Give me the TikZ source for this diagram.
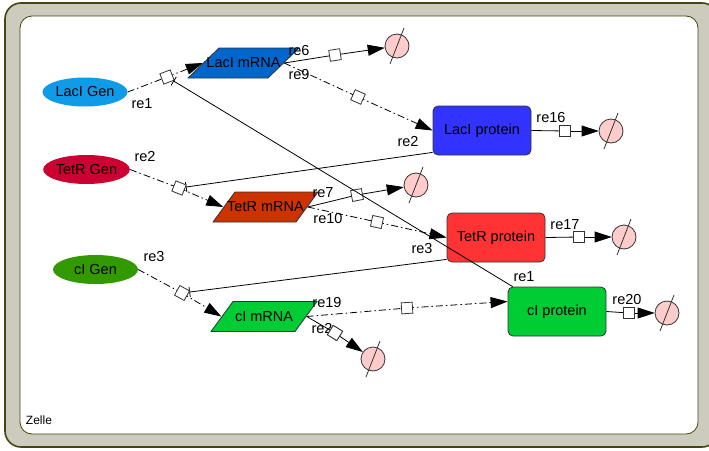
\documentclass[tikz,border=0pt]{standalone}
\usepackage{fontspec}
\setmainfont{Liberation Sans}
\usetikzlibrary{shapes.geometric,arrows.meta,calc}
\pgfdeclarelayer{back}
\pgfdeclarelayer{edges}
\pgfdeclarelayer{front}
\pgfsetlayers{back,edges,main,front}

\definecolor{compfill}{HTML}{CCCBBE}
\definecolor{compline}{HTML}{45450F}
\definecolor{lacgen}{HTML}{0F9BE8}
\definecolor{tetgen}{HTML}{CC0033}
\definecolor{cigen}{HTML}{339900}
\definecolor{lacrna}{HTML}{0066CC}
\definecolor{tetrna}{HTML}{CC3300}
\definecolor{cirna}{HTML}{00CC33}
\definecolor{lacprot}{HTML}{3333FF}
\definecolor{tetprot}{HTML}{FF3333}
\definecolor{ciprot}{HTML}{00CC33}
\definecolor{degpink}{HTML}{FFCCCC}
\definecolor{edgegray}{HTML}{333333}

\tikzset{
  gene/.style={ellipse, minimum width=85pt, minimum height=29pt, inner sep=0pt},
  % parallelogram drawn inside its box: #1 fill colour, #2 horizontal slant
  mrna/.style 2 args={rectangle, minimum height=31pt, inner sep=0pt,
    path picture={
      \path[fill=#1, draw=edgegray, line width=0.8pt]
        ([shift={(#2pt+0.5pt,-0.5pt)}]path picture bounding box.north west)
        -- ([shift={(-0.5pt,-0.5pt)}]path picture bounding box.north east)
        -- ([shift={(-#2pt-0.5pt,0.5pt)}]path picture bounding box.south east)
        -- ([shift={(0.5pt,0.5pt)}]path picture bounding box.south west) -- cycle;}},
  protein/.style={rectangle, rounded corners=5pt, minimum width=98pt,
    minimum height=49pt, draw=edgegray, line width=0.8pt},
  degr/.style={circle, minimum size=24pt, inner sep=0pt, draw=edgegray,
    fill=degpink, line width=0.8pt},
  proc/.style={rectangle, minimum size=11pt, inner sep=0pt, draw=edgegray,
    fill=white, line width=0.8pt},
  flow/.style={line width=0.8pt, black},
  transl/.style={flow, dash pattern=on 7pt off 3pt on 1.5pt off 3pt},
  tip/.style={-{Triangle[length=17pt,width=11pt]}},
  inhib/.style={flow, -{Bar[width=10pt,line width=0.8pt]}},
  lbl/.style={inner sep=0pt},
}

\begin{document}
\begin{tikzpicture}[x=1pt, y=-1pt, font=\fontsize{14.5}{16}\selectfont]
\useasboundingbox (0,0) rectangle (709,450);

% compartment "Zelle"
\begin{pgfonlayer}{back}
  \fill[white] (0,0) rectangle (709,450);
  \draw[line width=1.6pt, draw=compline, fill=compfill, rounded corners=16pt]
    (5,3) rectangle (718,447);
  \draw[line width=0.8pt, draw=compline, fill=white, rounded corners=12pt]
    (20,16) rectangle (698,434);
\end{pgfonlayer}
\node[lbl, font=\fontsize{12}{14}\selectfont] (zelle) at (39,420) {Zelle};

% genes
\node[gene, fill=lacgen] (lacg) at (85,92) {LacI Gen};
\node[gene, fill=tetgen] (tetg) at (86.5,169.5) {TetR Gen};
\node[gene, fill=cigen]  (cig)  at (95.5,269.5) {cI Gen};

% mRNAs
\node[mrna={lacrna}{31}, minimum width=112pt] (lacm) at (243.5,63) {LacI mRNA};
\node[mrna={tetrna}{22}, minimum width=106pt] (tetm) at (265.5,207) {TetR mRNA};
\node[mrna={cirna}{22}, minimum width=107pt]  (cim)  at (264,316.5) {cI mRNA};

% proteins
\node[protein, fill=lacprot] (lacp) at (482,130.5) {LacI protein};
\node[protein, fill=tetprot] (tetp) at (496,237.5) {TetR protein};
\node[protein, fill=ciprot]  (cip)  at (557,311.5) {cI protein};

% degradation sinks
\node[degr] (d6)  at (397,46) {};
\node[degr] (d16) at (611,131) {};
\node[degr] (d7)  at (416,185) {};
\node[degr] (d17) at (624,237) {};
\node[degr] (d21) at (373,359) {};
\node[degr] (d20) at (667,313) {};
\foreach \d in {d6,d16,d7,d17,d21,d20}
  \draw[line width=0.8pt, edgegray]
    ([shift={(-7,18)}]\d.center) -- ([shift={(7,-18)}]\d.center);

% process squares
\node[proc, rotate=21]  (s1)  at (167,77) {};
\node[proc, rotate=-22] (s2)  at (179,188) {};
\node[proc, rotate=-29] (s3)  at (182,293) {};
\node[proc, rotate=9]   (s6)  at (335,55) {};
\node[proc, rotate=-24] (s9)  at (358,97) {};
\node[proc]             (s16) at (565,131) {};
\node[proc, rotate=11]  (s7)  at (357,195) {};
\node[proc, rotate=-12] (s10) at (377,222) {};
\node[proc]             (s17) at (579,237) {};
\node[proc, rotate=4]   (s19) at (407,308) {};
\node[proc, rotate=-32] (s21) at (335,333) {};
\node[proc]             (s20) at (629,313) {};

% reactions
\begin{pgfonlayer}{edges}
  % transcription
  \draw[transl] (lacg.east) -- (s1.center);
  \draw[transl, tip] (s1.center) -- ([xshift=15.5pt]lacm.west);
  \draw[transl] (tetg.east) -- (s2.center);
  \draw[transl, tip] (s2.center) -- ([xshift=11pt]tetm.west);
  \draw[transl] (cig.east) -- (s3.center);
  \draw[transl, tip] (s3.center) -- ([xshift=11pt]cim.west);
  % translation
  \draw[transl] ([xshift=-15.5pt]lacm.east) -- (s9.center);
  \draw[transl, tip] (s9.center) -- (lacp.west);
  \draw[transl] ([xshift=-11pt]tetm.east) -- (s10.center);
  \draw[transl, tip] (s10.center) -- (tetp.west);
  \draw[transl] ([xshift=-11pt]cim.east) -- (s19.center);
  \draw[transl, tip] (s19.center) -- ([yshift=10pt]cip.west);
  % degradation
  \draw[flow] ([xshift=-15.5pt]lacm.east) -- (s6.center);
  \draw[flow, tip] (s6.center) -- (d6);
  \draw[flow] (lacp.east) -- (s16.center);
  \draw[flow, tip] (s16.center) -- (d16);
  \draw[flow] ([xshift=-11pt]tetm.east) -- (s7.center);
  \draw[flow, tip] (s7.center) -- (d7);
  \draw[flow] (tetp.east) -- (s17.center);
  \draw[flow, tip] (s17.center) -- (d17);
  \draw[flow] ([xshift=-11pt]cim.east) -- (s21.center);
  \draw[flow, tip] (s21.center) -- (d21);
  \draw[flow] (cip.east) -- (s20.center);
  \draw[flow, tip] (s20.center) -- (d20);
  % repression
  \draw[inhib] ([yshift=3pt]lacp.south west) -- (s2);
  \draw[inhib] ([yshift=3pt]tetp.south west) -- (s3);
\end{pgfonlayer}
\begin{pgfonlayer}{front}
  \draw[inhib] ([xshift=5pt]cip.north west) -- (s1);
\end{pgfonlayer}

% reaction labels
\node[lbl] (l1)  at (142,104) {re1};
\node[lbl] (l1b) at (524,277) {re1};
\node[lbl] (l2)  at (145,157) {re2};
\node[lbl] (l2b) at (408,142) {re2};
\node[lbl] (l3)  at (154,257) {re3};
\node[lbl] (l3b) at (422,249) {re3};
\node[lbl] (l6)  at (299,51) {re6};
\node[lbl] (l9)  at (299,75) {re9};
\node[lbl] (l16) at (551,118) {re16};
\node[lbl] (l7)  at (323,193) {re7};
\node[lbl] (l10) at (328,219) {re10};
\node[lbl] (l17) at (565,225) {re17};
\node[lbl] (l19) at (327,303) {re19};
\node[lbl] (l20) at (627,300) {re20};
\node[lbl] (l21) at (322,329) {re2};
\begin{pgfonlayer}{front}
  \node[proc, rotate=-32] (s21top) at (s21) {};
\end{pgfonlayer}
\end{tikzpicture}
\end{document}
